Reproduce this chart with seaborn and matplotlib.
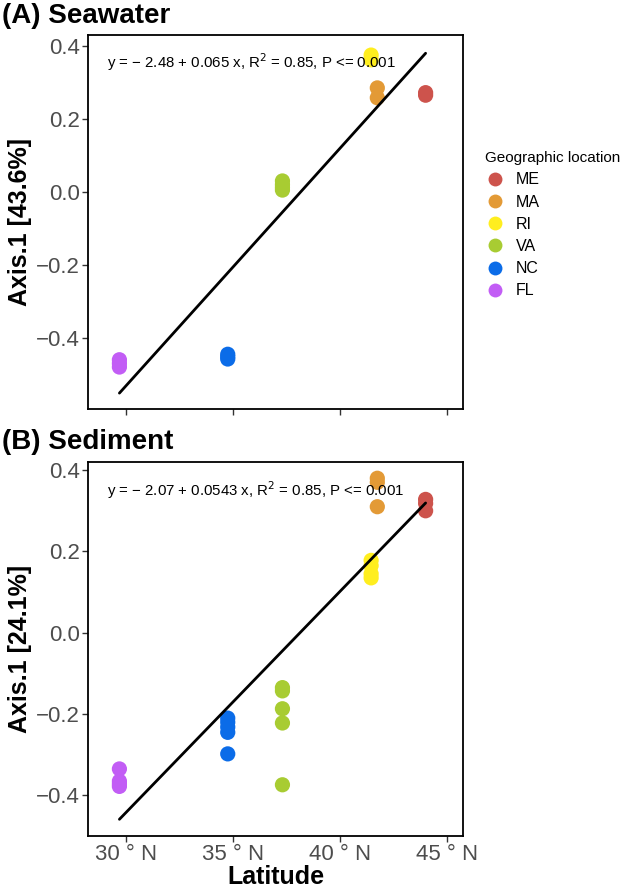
import numpy as np
import pandas as pd
import matplotlib
matplotlib.use("Agg")
import matplotlib.pyplot as plt
import seaborn as sns
from matplotlib.lines import Line2D

# ---------------- data ----------------
locations = ["ME", "MA", "RI", "VA", "NC", "FL"]
colors = ["#CD534C", "#E39A36", "#FFEE1F", "#A8CC32", "#0B6CE8", "#C25DF5"]
lat = {"ME": 44.0, "MA": 41.74, "RI": 41.45, "VA": 37.3, "NC": 34.74, "FL": 29.67}

sea_ME = [0.272, 0.265]
sea_MA = [0.285, 0.258]
sea_RI = [0.375, 0.362]
sea_VA = [0.030, 0.020, 0.012, 0.005]
sea_NC = [-0.445, -0.452, -0.458]
sea_FL = [-0.460, -0.470, -0.480]

sed_ME = [0.328, 0.318, 0.300]
sed_MA = [0.380, 0.370, 0.310]
sed_RI = [0.178, 0.165, 0.145, 0.135]
sed_VA = [-0.135, -0.143, -0.187, -0.222, -0.374]
sed_NC = [-0.210, -0.220, -0.232, -0.245, -0.298]
sed_FL = [-0.335, -0.365, -0.372, -0.378]

sea_fit = (-2.48, 0.065)
sed_fit = (-2.07, 0.0543)
sea_eq = "y = − 2.48 + 0.065 x, R$^{2}$ = 0.85, P <= 0.001"
sed_eq = "y = − 2.07 + 0.0543 x, R$^{2}$ = 0.85, P <= 0.001"

x_ticks = [30, 35, 40, 45]
x_ticklabels = ["30 ° N", "35 ° N", "40 ° N", "45 ° N"]
y_ticks = [-0.4, -0.2, 0.0, 0.2, 0.4]


def make_df(groups):
    rows = []
    for loc, vals in zip(locations, groups):
        for v in vals:
            rows.append({"Latitude": lat[loc], "Axis1": v, "loc": loc})
    return pd.DataFrame(rows)


sea_df = make_df([sea_ME, sea_MA, sea_RI, sea_VA, sea_NC, sea_FL])
sed_df = make_df([sed_ME, sed_MA, sed_RI, sed_VA, sed_NC, sed_FL])

# ---------------- plotting ----------------
sns.set_theme(style="white")
plt.rcParams["font.family"] = ["Liberation Sans", "DejaVu Sans"]
plt.rcParams["axes.unicode_minus"] = True
plt.rcParams["text.color"] = "black"
plt.rcParams["axes.labelcolor"] = "black"

fig = plt.figure(figsize=(6.32, 8.88), dpi=100)
W, H = 632, 888


def add_axes(left, top, right, bottom):
    return fig.add_axes([left / W, 1 - bottom / H, (right - left) / W, (bottom - top) / H])


axA = add_axes(88, 35, 463, 409)
axB = add_axes(88, 462, 463, 836)

palette = dict(zip(locations, colors))


def draw(ax, df, fit, eq, ylim, ylabel, show_x, eq_y):
    xs = np.array([df["Latitude"].min(), df["Latitude"].max()])
    line_df = pd.DataFrame({"x": xs, "y": fit[0] + fit[1] * xs})
    sns.lineplot(data=line_df, x="x", y="y", color="black", lw=2.0, ax=ax, zorder=3)
    sns.scatterplot(data=df, x="Latitude", y="Axis1", hue="loc", hue_order=locations,
                    palette=palette, s=120, edgecolor="none", ax=ax, legend=False, zorder=2)
    ax.set_xlim(28.2, 45.75)
    ax.set_ylim(*ylim)
    ax.set_xticks(x_ticks)
    ax.set_yticks(y_ticks)
    ax.set_yticklabels([f"{v:.1f}".replace("-", "−") for v in y_ticks])
    if show_x:
        ax.set_xticklabels(x_ticklabels)
        ax.set_xlabel("Latitude", fontsize=18, fontweight="bold", labelpad=0, color="black")
    else:
        ax.set_xticklabels([])
        ax.set_xlabel("")
    ax.set_ylabel(ylabel, fontsize=18, fontweight="bold", labelpad=3, color="black")
    ax.tick_params(axis="both", which="both", direction="out", length=4, width=1,
                   color="#333333", labelcolor="#4D4D4D", labelsize=16, pad=2,
                   bottom=True, left=True)
    for sp in ax.spines.values():
        sp.set_color("black")
        sp.set_linewidth(1.3)
        sp.set_visible(True)
    ax.text(0.05, eq_y, eq, transform=ax.transAxes, fontsize=10.8, color="black",
            ha="left", va="center")


draw(axA, sea_df, sea_fit, sea_eq, (-0.595, 0.43), "Axis.1 [43.6%]", False, 0.928)
draw(axB, sed_df, sed_fit, sed_eq, (-0.50, 0.42), "Axis.1 [24.1%]", True, 0.925)

fig.text(2 / W, 1 - 23 / H, "(A) Seawater", fontsize=20, fontweight="bold",
         ha="left", va="baseline", color="black")
fig.text(2 / W, 1 - 449 / H, "(B) Sediment", fontsize=20, fontweight="bold",
         ha="left", va="baseline", color="black")

# legend
handles = [Line2D([0], [0], marker="o", linestyle="none", markersize=10,
                  markerfacecolor=c, markeredgecolor="none") for c in colors]
leg = fig.legend(handles, locations, title="Geographic location",
                 loc="upper left", bbox_to_anchor=(474 / W, 1 - 140 / H),
                 frameon=False, fontsize=11.5, title_fontsize=11.0,
                 handlelength=1.2, handletextpad=0.7, labelspacing=0.45, borderpad=0.2)
leg._legend_box.align = "left"
for t in leg.get_texts():
    t.set_color("black")
leg.get_title().set_color("black")

fig.savefig("out.png", dpi=100, facecolor="white")
